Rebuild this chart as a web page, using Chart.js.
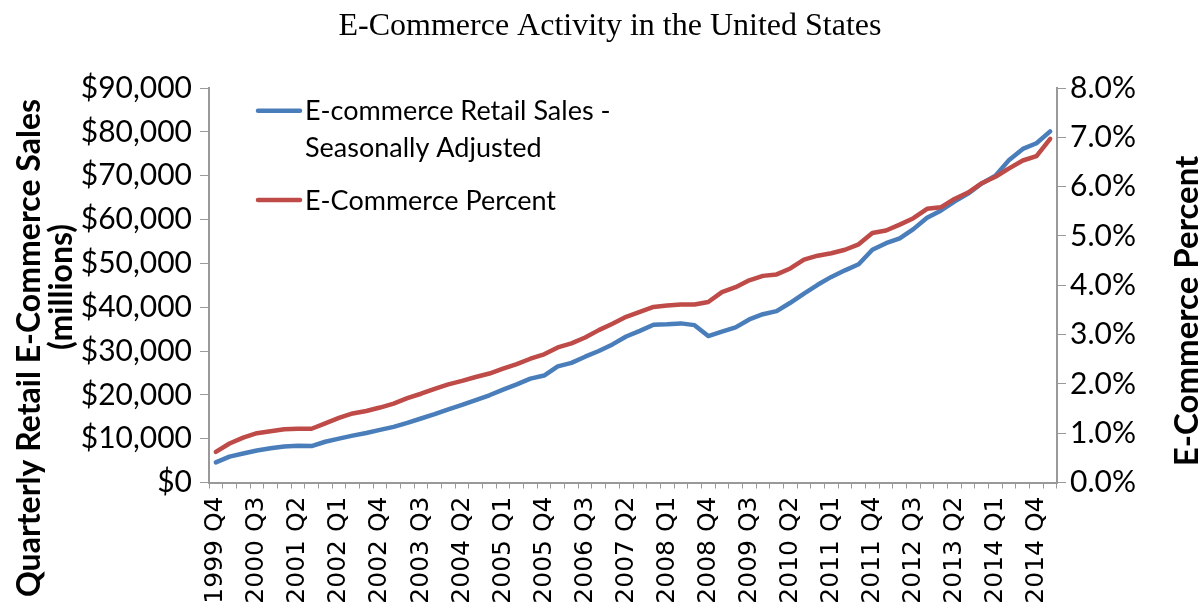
<!DOCTYPE html>
<html>
<head>
<meta charset="UTF-8">
<title>E-Commerce Activity in the United States</title>
<script src="https://cdn.jsdelivr.net/npm/chart.js"></script>
<style>
  html, body { margin: 0; padding: 0; background: #fff; }
  #wrap { position: relative; width: 1201px; height: 608px; }
</style>
</head>
<body>
<div id="wrap"><canvas id="ecomChart"></canvas></div>
<script>
// quarters, 1999 Q4 through 2015 Q1
const quarters = [
  '1999 Q4',
  '2000 Q1', '2000 Q2', '2000 Q3', '2000 Q4',
  '2001 Q1', '2001 Q2', '2001 Q3', '2001 Q4',
  '2002 Q1', '2002 Q2', '2002 Q3', '2002 Q4',
  '2003 Q1', '2003 Q2', '2003 Q3', '2003 Q4',
  '2004 Q1', '2004 Q2', '2004 Q3', '2004 Q4',
  '2005 Q1', '2005 Q2', '2005 Q3', '2005 Q4',
  '2006 Q1', '2006 Q2', '2006 Q3', '2006 Q4',
  '2007 Q1', '2007 Q2', '2007 Q3', '2007 Q4',
  '2008 Q1', '2008 Q2', '2008 Q3', '2008 Q4',
  '2009 Q1', '2009 Q2', '2009 Q3', '2009 Q4',
  '2010 Q1', '2010 Q2', '2010 Q3', '2010 Q4',
  '2011 Q1', '2011 Q2', '2011 Q3', '2011 Q4',
  '2012 Q1', '2012 Q2', '2012 Q3', '2012 Q4',
  '2013 Q1', '2013 Q2', '2013 Q3', '2013 Q4',
  '2014 Q1', '2014 Q2', '2014 Q3', '2014 Q4',
  '2015 Q1'
];

// retail e-commerce sales, seasonally adjusted ($ millions)
const salesSA = [
  4600,
  5900, 6600, 7300, 7800,
  8200, 8400, 8300, 9300,
  10000, 10700, 11300, 12000,
  12700, 13600, 14600, 15600,
  16700, 17700, 18800, 19900,
  21200, 22400, 23700, 24400,
  26500, 27300, 28700, 30000,
  31500, 33300, 34600, 36000,
  36100, 36300, 35900, 33400,
  34400, 35400, 37200, 38400,
  39100, 41000, 43100, 45100,
  46900, 48400, 49800, 53100,
  54600, 55700, 57800, 60400,
  62000, 64100, 65900, 68200,
  70000, 73600, 76100, 77400,
  80100
];

// e-commerce share of total retail sales (%)
const ecomPercent = [
  0.62,
  0.79, 0.91, 1.00, 1.04,
  1.08, 1.09, 1.09, 1.20,
  1.31, 1.40, 1.45, 1.52,
  1.60, 1.71, 1.80, 1.90,
  1.99, 2.06, 2.14, 2.21,
  2.31, 2.40, 2.51, 2.60,
  2.74, 2.82, 2.94, 3.09,
  3.22, 3.36, 3.46, 3.56,
  3.59, 3.61, 3.61, 3.66,
  3.86, 3.96, 4.10, 4.19,
  4.22, 4.34, 4.52, 4.60,
  4.65, 4.72, 4.83, 5.06,
  5.11, 5.23, 5.36, 5.55,
  5.58, 5.75, 5.88, 6.07,
  6.20, 6.37, 6.53, 6.62,
  6.97
];

const salesTicks = [0, 10000, 20000, 30000, 40000, 50000, 60000, 70000, 80000, 90000];
const percentTicks = [0, 1, 2, 3, 4, 5, 6, 7, 8];

const BLUE = '#4A7EBB';
const RED = '#BE4B48';
const AXIS = '#999999';
const tickFont = { family: 'Lato', size: 30 };

// legend and axis titles drawn straight onto the canvas
const overlayText = {
  id: 'overlayText',
  afterDraw(chart) {
    const ctx = chart.ctx;
    ctx.save();
    ctx.fillStyle = '#000';

    // legend, datasets in their own order
    const legendRows = [110.7, 200];
    ctx.font = '27px Lato';
    ctx.textBaseline = 'alphabetic';
    ctx.textAlign = 'left';
    chart.data.datasets.forEach((ds, i) => {
      const y = legendRows[i];
      ctx.strokeStyle = ds.borderColor;
      ctx.lineWidth = 4.5;
      ctx.lineCap = 'round';
      ctx.beginPath();
      ctx.moveTo(258, y);
      ctx.lineTo(300, y);
      ctx.stroke();
      const lines = [].concat(ds.label);
      lines.forEach((t, k) => ctx.fillText(t, 305, y + 9.5 + k * 36.5));
    });

    // axis titles, both reading upwards
    ctx.font = 'bold 32px Lato';
    ctx.textAlign = 'center';
    ctx.textBaseline = 'middle';
    const vtext = (t, x, y) => {
      ctx.save();
      ctx.translate(x, y);
      ctx.rotate(-Math.PI / 2);
      ctx.fillText(t, 0, 0);
      ctx.restore();
    };
    vtext('Quarterly Retail E-Commerce Sales', 30, 348);
    vtext('(millions)', 62, 287);
    ctx.font = 'bold 33px Lato';
    vtext('E-Commerce Percent', 1187, 311);
    ctx.restore();
  }
};

new Chart(document.getElementById('ecomChart'), {
  type: 'line',
  data: {
    labels: quarters,
    datasets: [
      {
        label: ['E-commerce Retail Sales -', 'Seasonally Adjusted'],
        data: salesSA,
        yAxisID: 'y',
        borderColor: BLUE,
        backgroundColor: BLUE,
        borderWidth: 4.5,
        pointRadius: 0,
        tension: 0,
        order: 1
      },
      {
        label: 'E-Commerce Percent',
        data: ecomPercent,
        yAxisID: 'y1',
        borderColor: RED,
        backgroundColor: RED,
        borderWidth: 4.5,
        pointRadius: 0,
        tension: 0,
        order: 0
      }
    ]
  },
  options: {
    responsive: true,
    maintainAspectRatio: false,
    animation: false,
    layout: { padding: { left: 19, right: 0, top: 0, bottom: 0 } },
    elements: { line: { borderJoinStyle: 'round', borderCapStyle: 'round' } },
    plugins: {
      legend: { display: false },
      tooltip: { enabled: false },
      title: {
        display: true,
        text: 'E-Commerce Activity in the United States',
        color: '#000',
        font: { family: 'Liberation Serif', size: 32, weight: 'normal', lineHeight: 1.2 },
        padding: { top: 7, bottom: 42.6 }
      }
    },
    scales: {
      x: {
        type: 'category',
        offset: true,
        border: { display: true, color: AXIS, width: 2 },
        grid: { display: true, drawOnChartArea: false, drawTicks: true, tickLength: 6, color: AXIS, offset: true },
        ticks: {
          autoSkip: false,
          minRotation: 90,
          maxRotation: 90,
          padding: 8,
          color: '#000',
          font: { family: 'DejaVu Sans', size: 25 },
          callback: function (value, index) {
            return index % 3 === 0 ? this.getLabelForValue(value) : '';
          }
        },
        afterFit(scale) { scale.height = 125.5; }
      },
      y: {
        position: 'left',
        min: 0,
        max: 90000,
        border: { display: true, color: AXIS, width: 2 },
        grid: { display: true, drawOnChartArea: false, drawTicks: true, tickLength: 9, color: AXIS },
        afterBuildTicks(scale) { scale.ticks = salesTicks.map(v => ({ value: v })); },
        ticks: {
          padding: 8,
          color: '#000',
          font: tickFont,
          callback: v => '$' + v.toLocaleString('en-US')
        },
        afterFit(scale) { scale.width = 190; }
      },
      y1: {
        position: 'right',
        min: 0,
        max: 8,
        border: { display: true, color: AXIS, width: 2 },
        grid: { display: true, drawOnChartArea: false, drawTicks: true, tickLength: 9, color: AXIS },
        afterBuildTicks(scale) { scale.ticks = percentTicks.map(v => ({ value: v })); },
        ticks: {
          padding: 4,
          color: '#000',
          font: tickFont,
          callback: v => v.toFixed(1) + '%'
        },
        afterFit(scale) { scale.width = 144; }
      }
    }
  },
  plugins: [overlayText]
});
</script>
</body>
</html>
